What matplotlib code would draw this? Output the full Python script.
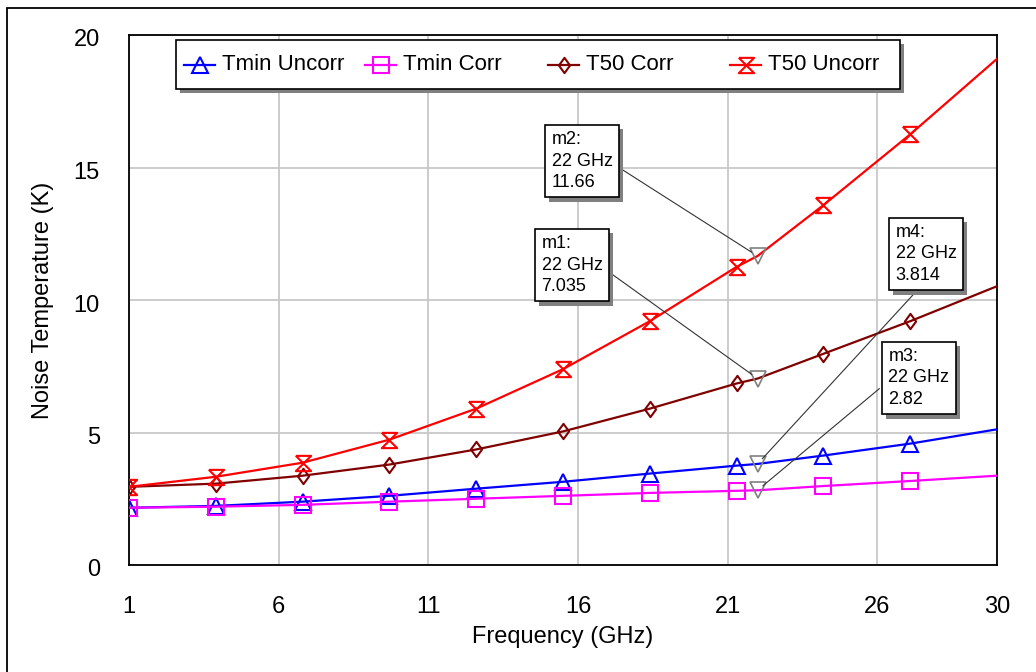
import numpy as np
import matplotlib
matplotlib.use("Agg")
import matplotlib.pyplot as plt
from matplotlib.path import Path
from matplotlib.lines import Line2D
from matplotlib.patches import Rectangle
from matplotlib import patheffects as pe
from matplotlib.transforms import ScaledTranslation

plt.rcParams.update({
    "font.family": "Liberation Sans",
    "font.size": 17,
})

# noise temperature vs frequency (GHz), sweep points every 2.9 GHz plus the 22 GHz marker and the band edge
freq = [1, 3.9, 6.8, 9.7, 12.6, 15.5, 18.4, 21.3, 22, 24.2, 27.1, 30]
tmin_uncorr = [2.16, 2.23, 2.39, 2.61, 2.88, 3.14, 3.45, 3.75, 3.814, 4.13, 4.58, 5.12]
tmin_corr = [2.16, 2.20, 2.27, 2.39, 2.50, 2.61, 2.72, 2.80, 2.82, 2.98, 3.17, 3.37]
t50_corr = [2.95, 3.07, 3.37, 3.79, 4.36, 5.04, 5.90, 6.85, 7.035, 7.97, 9.20, 10.52]
t50_uncorr = [2.95, 3.33, 3.86, 4.73, 5.90, 7.39, 9.20, 11.25, 11.66, 13.58, 16.25, 19.10]

# markers m1..m4 at 22 GHz
mk_names = ["m1", "m2", "m3", "m4"]
mk_freq = 22
mk_vals = [7.035, 11.66, 2.82, 3.814]

# hourglass marker for T50 Uncorr, slightly wide diamond for T50 Corr
hourglass = Path([(-1, 1), (1, 1), (-1, -1), (1, -1), (-1, 1)],
                 [Path.MOVETO, Path.LINETO, Path.LINETO, Path.LINETO, Path.LINETO])
diamond = Path([(0, 1), (0.73, 0), (0, -1), (-0.73, 0), (0, 1)],
               [Path.MOVETO, Path.LINETO, Path.LINETO, Path.LINETO, Path.CLOSEPOLY])

series = [
    ("Tmin Uncorr", tmin_uncorr, "#0000ff", "^", 11),
    ("Tmin Corr", tmin_corr, "#ff00ff", "s", 11),
    ("T50 Corr", t50_corr, "#800000", diamond, 11),
    ("T50 Uncorr", t50_uncorr, "#ff0000", hourglass, 11),
]
mark_idx = [0, 1, 2, 3, 4, 5, 6, 7, 9, 10]

W, H = 1036, 672
fig = plt.figure(figsize=(W / 100, H / 100), dpi=100)
ax = fig.add_axes([129 / W, 1 - 565 / H, (997 - 129) / W, (565 - 35) / H])

for name, vals, col, mk, ms in series:
    ax.plot(freq, vals, color=col, lw=1.6, marker=mk, ms=ms, mfc="none",
            mec=col, mew=1.5, markevery=mark_idx, zorder=3)

ax.plot([mk_freq] * 4, mk_vals, ls="none", marker="v", ms=11, mfc="none",
        mec="#808080", mew=1.2, zorder=4)

ax.set_xlim(1, 30)
ax.set_ylim(0, 20)
ax.set_xticks([1, 6, 11, 16, 21, 26, 30])
ax.set_yticks([0, 5, 10, 15, 20])
ax.grid(True, color="#c8c8c8", lw=1.3)
ax.set_axisbelow(True)
ax.tick_params(length=0, labelsize=17)
ax.tick_params(axis="x", pad=22)
ax.tick_params(axis="y", pad=21)
for lab in ax.get_yticklabels():
    lab.set_transform(lab.get_transform() + ScaledTranslation(0, -3 / 100, fig.dpi_scale_trans))
for sp in ax.spines.values():
    sp.set_linewidth(1.3)

ax.set_xlabel("Frequency (GHz)", fontsize=17, labelpad=6)
ax.set_ylabel("Noise Temperature (K)", fontsize=17, labelpad=14)

# marker readout boxes, centres and leader attach points in pixels
box_pos = {"m1": (572, 265), "m2": (582, 161), "m3": (919, 378), "m4": (926, 254)}
rel_pos = {"m1": (1, 0.46), "m2": (1, 0.46), "m3": (0, 0.45), "m4": (0.45, 0)}
shadow = [pe.withSimplePatchShadow(offset=(3, -3), shadow_rgbFace="#808080", alpha=1)]
for name, val in zip(mk_names, mk_vals):
    bx, by = box_pos[name]
    ann = ax.annotate(f"{name}:\n{mk_freq} GHz\n{val:g}", xy=(mk_freq, val),
                      xytext=(bx, H - by), textcoords="figure pixels",
                      ha="center", va="center", multialignment="left",
                      fontsize=13, linespacing=1.35,
                      bbox=dict(boxstyle="square,pad=0.35", fc="white", ec="black", lw=1.2),
                      arrowprops=dict(arrowstyle="-", color="#333333", lw=0.8,
                                      relpos=rel_pos[name], shrinkA=2, shrinkB=5),
                      zorder=6)
    ann.get_bbox_patch().set_path_effects(shadow)

# legend strip across the top of the plot
def fx(px):
    return px / W

def fy(py):
    return 1 - py / H

leg = Rectangle((fx(176), fy(89)), fx(900) - fx(176), fy(40) - fy(89),
                transform=fig.transFigure, fc="white", ec="black", lw=1.2, zorder=7)
leg.set_path_effects([pe.withSimplePatchShadow(offset=(3, -3), shadow_rgbFace="#808080", alpha=1)])
fig.add_artist(leg)

leg_x = [184, 365, 548, 730]
for (name, vals, col, mk, ms), x0 in zip(series, leg_x):
    fig.add_artist(Line2D([fx(x0), fx(x0 + 31)], [fy(65), fy(65)], transform=fig.transFigure,
                          color=col, lw=1.6, zorder=8))
    fig.add_artist(Line2D([fx(x0 + 15.5)], [fy(65)], transform=fig.transFigure, ls="none",
                          marker=mk, ms=ms, mfc="none", mec=col, mew=1.5, zorder=8))
    fig.text(fx(x0 + 38), fy(65), name, fontsize=16, ha="left", va="center", zorder=8)

# outer frame
fig.add_artist(Rectangle((fx(7), -0.1), 1.2, fy(8) + 0.1, transform=fig.transFigure,
                         fill=False, ec="black", lw=1.3))

fig.savefig("out.png", dpi=100)
